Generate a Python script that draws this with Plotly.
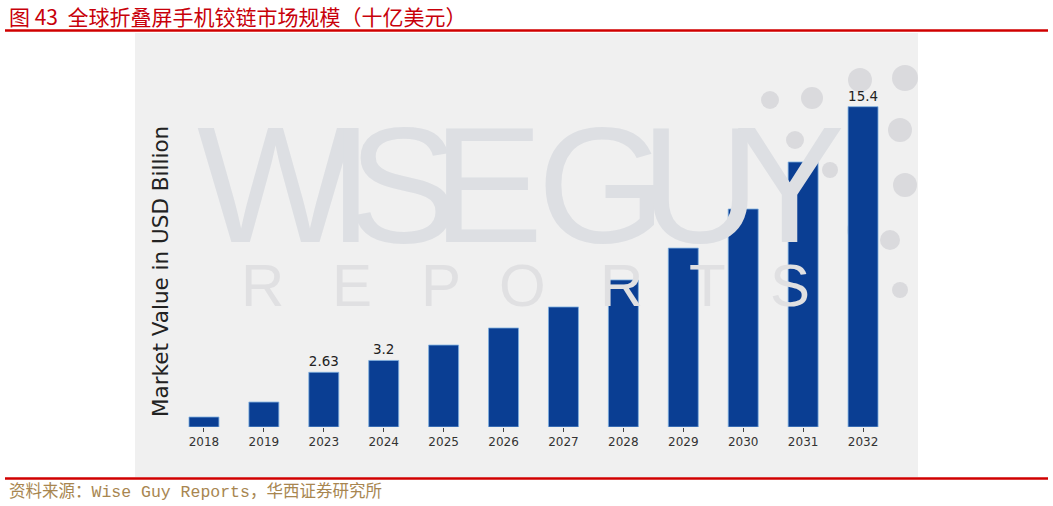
import plotly.graph_objects as go

# ---- data ----
years = ["2018", "2019", "2023", "2024", "2025", "2026", "2027", "2028", "2029", "2030", "2031", "2032"]
values = [0.48, 1.2, 2.63, 3.2, 3.94, 4.76, 5.77, 7.07, 8.6, 10.48, 12.74, 15.4]
value_labels = ["", "", "2.63", "3.2", "", "", "", "", "", "", "", "15.4"]

title_text = "图 43  全球折叠屏手机铰链市场规模（十亿美元）"
source_text = "资料来源：Wise Guy Reports，华西证券研究所"
y_title = "Market Value in USD Billion"

W, H = 1053, 506
L, R, T, B = 174, 893, 60, 427  # plot area in px


def px2x(px):
    return (px - L) / (R - L)


def px2y(py):
    return (B - py) / (B - T)


fig = go.Figure()
fig.add_trace(go.Bar(
    x=years, y=values,
    text=value_labels, textposition="outside",
    textfont=dict(family="DejaVu Sans", size=13.5, color="#222222"),
    marker=dict(color="#0a3e93", line=dict(color="#7fb0e0", width=0.8)),
    cliponaxis=False,
))

shapes = []
# gray image background
shapes.append(dict(type="rect", xref="paper", yref="paper",
                   x0=px2x(135), x1=px2x(918), y0=px2y(477), y1=px2y(33),
                   fillcolor="#f0f0f0", line=dict(width=0), layer="below"))
# watermark dots
dots = [(770, 100, 9), (812, 98, 11), (860, 80, 12), (905, 78, 13), (795, 140, 9),
        (900, 130, 12), (905, 185, 12), (890, 240, 10), (860, 230, 13), (900, 290, 8),
        (830, 170, 8)]
for cx, cy, r in dots:
    shapes.append(dict(type="circle", xref="paper", yref="paper",
                       x0=px2x(cx - r), x1=px2x(cx + r), y0=px2y(cy + r), y1=px2y(cy - r),
                       fillcolor="#dadadd", line=dict(width=0), layer="below"))
# red rules
for py in (30.5, 478.5):
    shapes.append(dict(type="line", xref="paper", yref="paper",
                       x0=px2x(5), x1=px2x(1048), y0=px2y(py), y1=px2y(py),
                       line=dict(color="#d00000", width=2.5)))

annotations = []
# watermark text
annotations.append(dict(text='<span style="letter-spacing:-26px">WISE GUY</span>',
                        xref="paper", yref="paper",
                        x=px2x(195), y=px2y(184), xanchor="left", yanchor="middle",
                        showarrow=False,
                        font=dict(family="Liberation Sans, sans-serif",
                                  size=166, color="#dddfe3")))
for ch, cx in zip("REPORTS", [262, 352, 441, 522, 621, 707, 790]):
    annotations.append(dict(text=ch, xref="paper", yref="paper",
                            x=px2x(cx), y=px2y(285), xanchor="center", yanchor="middle",
                            showarrow=False,
                            font=dict(family="Liberation Sans, sans-serif", size=60, color="#e0e0e2")))
# y axis title
annotations.append(dict(text=y_title, xref="paper", yref="paper",
                        x=px2x(160), y=px2y(272), xanchor="center", yanchor="middle",
                        textangle=-90, showarrow=False,
                        font=dict(family="DejaVu Sans", size=21.5, color="#222222")))
# title
annotations.append(dict(text=title_text, xref="paper", yref="paper",
                        x=px2x(7), y=px2y(16), xanchor="left", yanchor="middle",
                        showarrow=False,
                        font=dict(family="Noto Sans CJK SC", size=21, color="#c8000a")))
# source
annotations.append(dict(text=source_text, xref="paper", yref="paper",
                        x=px2x(7), y=px2y(492), xanchor="left", yanchor="middle",
                        showarrow=False,
                        font=dict(family="Liberation Mono, Noto Sans CJK SC", size=16.5, color="#a88650")))

fig.update_layout(
    width=W, height=H,
    margin=dict(l=L, r=W - R, t=T, b=H - B, pad=0),
    paper_bgcolor="white", plot_bgcolor="rgba(0,0,0,0)",
    bargap=0.5, showlegend=False,
    shapes=shapes, annotations=annotations,
    xaxis=dict(type="category", showgrid=False, showline=False, zeroline=False,
               ticks="outside", ticklen=4, tickwidth=1, tickcolor="#444444",
               tickfont=dict(family="DejaVu Sans", size=12, color="#333333")),
    yaxis=dict(visible=False, range=[0, (B - T) / 20.8]),
)

fig.write_html("out.html", config={"displayModeBar": False},
               post_script="document.body.style.margin='0px';")
